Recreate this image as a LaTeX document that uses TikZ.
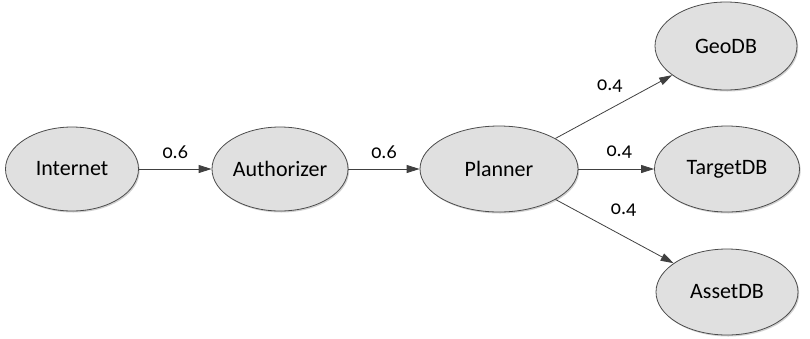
\documentclass[tikz,border=0pt]{standalone}
\usepackage{fontspec}
\setmainfont[Numbers=OldStyle]{Carlito}
\usetikzlibrary{shapes.geometric,arrows.meta,shadows}
\begin{document}
\begin{tikzpicture}[x=1pt,y=-1pt,
  state/.style={ellipse,draw=black!70,line width=0.8pt,fill=black!12,
    inner sep=0pt,font=\fontsize{22}{26}\selectfont,
    drop shadow={shadow xshift=1.2pt,shadow yshift=-1.5pt,fill=black,opacity=0.18}},
  link/.style={draw=black!75,line width=0.8pt,
    -{Triangle[length=13pt,width=8pt]}},
  prob/.style={font=\fontsize{20}{24}\selectfont,inner sep=1pt}]
  \useasboundingbox (0,0) rectangle (810,338);
  \node[state,minimum width=133pt,minimum height=84pt] (inet)  at (72,169)  {Internet};
  \node[state,minimum width=136pt,minimum height=84pt] (auth)  at (280,169) {Authorizer};
  \node[state,minimum width=158pt,minimum height=86pt] (plan)  at (499,169) {Planner};
  \node[state,minimum width=142pt,minimum height=88pt] (geo)   at (726,46)  {GeoDB};
  \node[state,minimum width=145pt,minimum height=86pt] (targ)  at (727,169) {TargetDB};
  \node[state,minimum width=142pt,minimum height=86pt] (asset) at (727,292) {AssetDB};
  \draw[link] (inet) -- node[prob,above=9pt] {0.6} (auth);
  \draw[link] (auth) -- node[prob,above=9pt] {0.6} (plan);
  \draw[link] (plan) -- node[prob,midway,xshift=-4pt,yshift=21pt] {0.4} (geo);
  \draw[link] (plan) -- node[prob,above=9pt,xshift=3pt] {0.4} (targ);
  \draw[link] (plan) -- node[prob,midway,xshift=9pt,yshift=21pt] {0.4} (asset);
\end{tikzpicture}
\end{document}
